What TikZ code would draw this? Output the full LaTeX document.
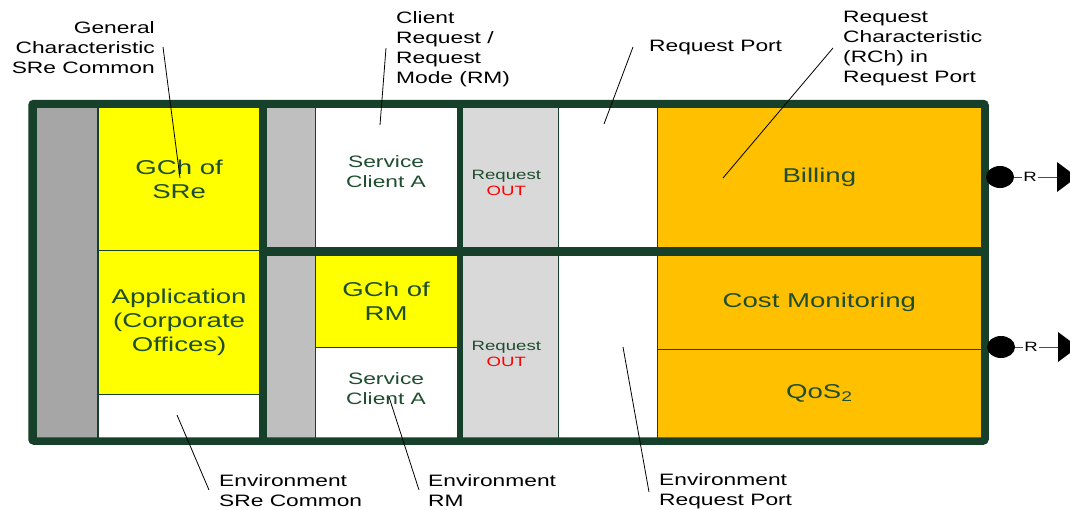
\documentclass[tikz,border=0pt]{standalone}
\usepackage{fontspec}
\setmainfont[FakeStretch=1.38]{Liberation Sans}
\usepackage{tikz}
\usetikzlibrary{positioning, arrows.meta, shapes.geometric}
\definecolor{frameg}{HTML}{17402A}
\definecolor{txtg}{HTML}{1E4D2F}
\definecolor{ylw}{HTML}{FFFF00}
\definecolor{orng}{HTML}{FFC000}
\definecolor{grayA}{HTML}{A6A6A6}
\definecolor{grayB}{HTML}{BFBFBF}
\definecolor{grayC}{HTML}{D9D9D9}
\tikzset{
    cell/.style={draw=frameg, line width=0.7pt, anchor=north west, inner sep=0pt, fill=#1},
    bigtxt/.style={text=txtg, align=center, inner sep=0pt, font=\fontsize{20}{24}\selectfont},
    midtxt/.style={text=txtg, align=center, inner sep=0pt, font=\fontsize{16.5}{20}\selectfont},
    smalltxt/.style={text=txtg, align=center, inner sep=0pt, font=\fontsize{13.5}{16}\selectfont},
    callout/.style={align=left, inner sep=0pt, font=\fontsize{16.5}{20}\selectfont},
    pointer/.style={draw=black, line width=0.8pt},
    wall/.style={draw=frameg, line width=#1},
    portdot/.style={ellipse, fill=black, minimum width=28pt, minimum height=22pt, inner sep=0pt},
    portlbl/.style={inner sep=1pt, font=\fontsize{13.5}{15}\selectfont},
    portline/.style={draw=black!70, line width=0.8pt},
}

\begin{document}
\begin{tikzpicture}[x=1pt, y=-1pt]
\clip (0,0) rectangle (1070,509);
% left column
\node[cell=grayA, minimum width=61pt, minimum height=330.5pt] (lgray) at (36,107) {};
\node[cell=ylw, minimum width=161.5pt, minimum height=143.3pt] (gsre) at (98,107) {};
\node[cell=ylw, minimum width=161.5pt, minimum height=143.7pt] (app) at (98,250.3) {};
\node[cell=white, minimum width=161.5pt, minimum height=43.5pt] (envs) at (98,394) {};
% upper row
\node[cell=grayB, minimum width=48.5pt, minimum height=140pt] (gru) at (266,107) {};
\node[cell=white, minimum width=142.5pt, minimum height=140pt] (scau) at (314.5,107) {};
\node[cell=grayC, minimum width=96pt, minimum height=140pt] (rqu) at (462,107) {};
\node[cell=white, minimum width=99pt, minimum height=140pt] (rpu) at (558,107) {};
\node[cell=orng, minimum width=324pt, minimum height=140pt] (bill) at (657,107) {};
% lower row
\node[cell=grayB, minimum width=48.5pt, minimum height=183pt] (grl) at (266,254.5) {};
\node[cell=ylw, minimum width=142.5pt, minimum height=92.5pt] (gcrm) at (314.5,254.5) {};
\node[cell=white, minimum width=142.5pt, minimum height=90.5pt] (scal) at (314.5,347) {};
\node[cell=grayC, minimum width=96pt, minimum height=183pt] (rql) at (462,254.5) {};
\node[cell=white, minimum width=99pt, minimum height=183pt] (rpl) at (558,254.5) {};
\node[cell=orng, minimum width=324pt, minimum height=94.5pt] (cost) at (657,254.5) {};
\node[cell=orng, minimum width=324pt, minimum height=88.5pt] (qos) at (657,349) {};
% walls and frame
\draw[wall=7pt] (262.5,103.5) -- (262.5,441);
\draw[wall=5pt] (459.5,103.5) -- (459.5,441);
\draw[wall=7.5pt] (262.5,250.8) -- (985,250.8);
\draw[wall=7.5pt, rounded corners=2pt] (32,103.5) rectangle (985,441);
% texts in the cells
\node[bigtxt] (tgsre) at (gsre.center) {GCh of\\SRe};
\node[bigtxt] (tapp) at (app.center) {Application\\(Corporate\\Offices)};
\node[midtxt] (tscau) at ([yshift=6pt]scau.center) {Service\\Client A};
\node[smalltxt] (trqu) at ([xshift=-4pt, yshift=-6pt]rqu.center) {Request\\\textcolor{red}{OUT}};
\node[bigtxt] (tbill) at (bill.center) {Billing};
\node[bigtxt] (tgcrm) at (gcrm.center) {GCh of\\RM};
\node[midtxt] (tscal) at ([yshift=4pt]scal.center) {Service\\Client A};
\node[smalltxt] (trql) at ([xshift=-4pt, yshift=-8pt]rql.center) {Request\\\textcolor{red}{OUT}};
\node[bigtxt] (tcost) at (cost.center) {Cost Monitoring};
\node[bigtxt] (tqos) at (qos.center) {QoS\textsubscript{2}};
% callouts
\node[callout, anchor=east, align=right] (lgen) at (155,48) {General\\Characteristic\\SRe Common};
\node[callout, anchor=west] (lclnt) at (396,49) {Client\\Request /\\Request\\Mode (RM)};
\node[callout, anchor=west] (lrport) at (649,48) {Request Port};
\node[callout, anchor=west] (lrch) at (843,49) {Request\\Characteristic\\(RCh) in\\Request Port};
\node[callout, anchor=west] (lenvs) at (219,491) {Environment\\SRe Common};
\node[callout, anchor=west] (lenvrm) at (428,491) {Environment\\RM};
\node[callout, anchor=west] (lenvrp) at (659,491) {Environment\\Request Port};
\coordinate (pgen) at (163,47);   \coordinate (egen) at (180,178);
\coordinate (pclnt) at (386,48);  \coordinate (eclnt) at (380,125);
\coordinate (prport) at (633,47); \coordinate (erport) at (604,124);
\coordinate (prch) at (833,48);   \coordinate (erch) at (723,178);
\coordinate (penvs) at (209,490); \coordinate (eenvs) at (177,415);
\coordinate (penvrm) at (419,490); \coordinate (eenvrm) at (389,397);
\coordinate (penvrp) at (649,492); \coordinate (eenvrp) at (623,347);
\draw[pointer] (pgen) -- (egen);
\draw[pointer] (pclnt) -- (eclnt);
\draw[pointer] (prport) -- (erport);
\draw[pointer] (prch) -- (erch);
\draw[pointer] (penvs) -- (eenvs);
\draw[pointer] (penvrm) -- (eenvrm);
\draw[pointer] (penvrp) -- (eenvrp);
% ports on the right
\node[portdot] (dotA) at (1000,177) {};
\node[portlbl] (rA) at (1030,177) {R};
\coordinate (tipA) at (1057,177);
\draw[portline] (dotA.east) -- (rA.west);
\draw[portline] (rA.east) -- (tipA);
\fill ([yshift=15pt]tipA) -- ([yshift=-15pt]tipA) -- ([xshift=20pt]tipA) -- cycle;
\node[portdot] (dotB) at (1001,347) {};
\node[portlbl] (rB) at (1031,347) {R};
\coordinate (tipB) at (1058,347);
\draw[portline] (dotB.east) -- (rB.west);
\draw[portline] (rB.east) -- (tipB);
\fill ([yshift=15pt]tipB) -- ([yshift=-15pt]tipB) -- ([xshift=20pt]tipB) -- cycle;
\end{tikzpicture}
\end{document}
